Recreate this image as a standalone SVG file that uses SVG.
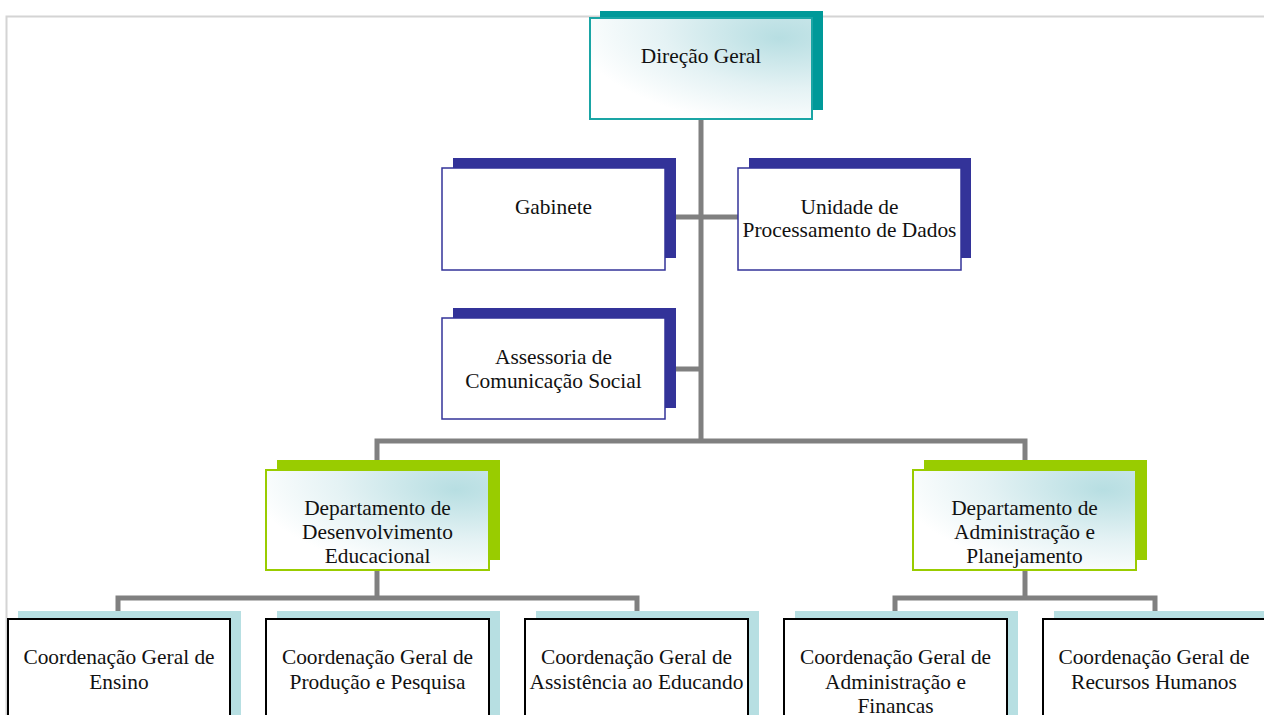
<svg xmlns="http://www.w3.org/2000/svg" width="1264" height="715" viewBox="0 0 1264 715">
<defs>
<radialGradient id="gTop" cx="1" cy="0" r="1.1" fx="0.85" fy="0.2">
<stop offset="0" stop-color="#b7dee2"/>
<stop offset="0.55" stop-color="#e4f2f4"/>
<stop offset="1" stop-color="#ffffff"/>
</radialGradient>
<style>
text{font-family:"Liberation Serif","Times New Roman",serif;font-size:21.4px;fill:#111;text-anchor:middle}
.conn{stroke:#808080;stroke-width:5;fill:none;stroke-linejoin:miter}
.sh-teal{fill:#009999}
.sh-navy{fill:#333399}
.sh-green{fill:#99cc00}
.sh-blue{fill:#b7dfe2}
.b-teal{fill:url(#gTop);stroke:#1aa5a5;stroke-width:2}
.b-navy{fill:#ffffff;stroke:#333399;stroke-width:1.5}
.b-green{fill:url(#gTop);stroke:#99cc00;stroke-width:2}
.b-black{fill:#ffffff;stroke:#000;stroke-width:2}
</style>
</defs>
<rect width="1264" height="715" fill="#ffffff"/>
<path d="M6.5 715V16.5H1264" fill="none" stroke="#d4d4d4" stroke-width="2"/>

<g id="connectors">
<path class="conn" d="M701 119V441"/>
<path class="conn" d="M665 217H738"/>
<path class="conn" d="M665 369H701"/>
<path class="conn" d="M377 470V441H1025V470"/>
<path class="conn" d="M377 570V598"/>
<path class="conn" d="M118 611V598H637V611"/>
<path class="conn" d="M1025 570V598"/>
<path class="conn" d="M895 611V598H1155V611"/>
</g>

<g id="direcao-geral">
<rect class="sh-teal" x="600" y="11" width="223" height="99"/>
<rect class="b-teal" x="590" y="18" width="222" height="101"/>
<text x="701" y="63">Direção Geral</text>
</g>

<g id="gabinete">
<rect class="sh-navy" x="453" y="158" width="223" height="100"/>
<rect class="b-navy" x="442" y="168" width="223" height="102"/>
<text x="553.5" y="214">Gabinete</text>
</g>

<g id="unidade-processamento">
<rect class="sh-navy" x="749" y="158" width="222" height="100"/>
<rect class="b-navy" x="738" y="168" width="223" height="102"/>
<text x="849.5" y="214">Unidade de</text>
<text x="849.5" y="237">Processamento de Dados</text>
</g>

<g id="assessoria">
<rect class="sh-navy" x="453" y="308" width="223" height="100"/>
<rect class="b-navy" x="442" y="318" width="223" height="101"/>
<text x="553.5" y="364">Assessoria de</text>
<text x="553.5" y="388">Comunicação Social</text>
</g>

<g id="dept-desenvolvimento">
<rect class="sh-green" x="277" y="460" width="223" height="100"/>
<rect class="b-green" x="266" y="470" width="223" height="100"/>
<text x="377.5" y="515">Departamento de</text>
<text x="377.5" y="539">Desenvolvimento</text>
<text x="377.5" y="563">Educacional</text>
</g>

<g id="dept-administracao">
<rect class="sh-green" x="924" y="460" width="223" height="100"/>
<rect class="b-green" x="913" y="470" width="223" height="100"/>
<text x="1024.5" y="515">Departamento de</text>
<text x="1024.5" y="539">Administração e</text>
<text x="1024.5" y="563">Planejamento</text>
</g>

<g id="coord-ensino">
<rect class="sh-blue" x="18" y="611" width="223" height="110"/>
<rect class="b-black" x="8" y="619" width="222" height="110"/>
<text x="119" y="664">Coordenação Geral de</text>
<text x="119" y="689">Ensino</text>
</g>

<g id="coord-producao">
<rect class="sh-blue" x="277" y="611" width="223" height="110"/>
<rect class="b-black" x="266" y="619" width="223" height="110"/>
<text x="377.5" y="664">Coordenação Geral de</text>
<text x="377.5" y="689">Produção e Pesquisa</text>
</g>

<g id="coord-assistencia">
<rect class="sh-blue" x="536" y="611" width="223" height="110"/>
<rect class="b-black" x="525" y="619" width="223" height="110"/>
<text x="636.5" y="664">Coordenação Geral de</text>
<text x="636.5" y="689">Assistência ao Educando</text>
</g>

<g id="coord-administracao">
<rect class="sh-blue" x="795" y="611" width="223" height="110"/>
<rect class="b-black" x="784" y="619" width="223" height="110"/>
<text x="895.5" y="664">Coordenação Geral de</text>
<text x="895.5" y="689">Administração e</text>
<text x="895.5" y="713">Financas</text>
</g>

<g id="coord-rh">
<rect class="sh-blue" x="1054" y="611" width="223" height="110"/>
<rect class="b-black" x="1043" y="619" width="223" height="110"/>
<text x="1154" y="664">Coordenação Geral de</text>
<text x="1154" y="689">Recursos Humanos</text>
</g>
</svg>
